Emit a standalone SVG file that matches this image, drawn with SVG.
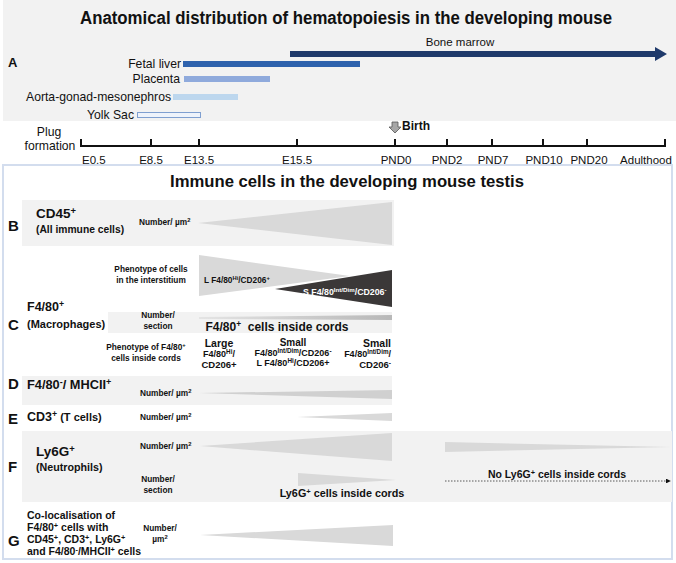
<svg xmlns="http://www.w3.org/2000/svg" width="676" height="563" viewBox="0 0 676 563">
<style>
text{font-family:"Liberation Sans",Arial,sans-serif;fill:#111}
.b{font-weight:bold}
.t11{font-size:11.5px}
.a12{font-size:12.2px}
.s8{font-size:8.3px;font-weight:bold}
.lbl{font-size:13.5px;font-weight:bold}
.tri{fill:#d9d9d9}
.strip{fill:#f2f2f2}
.tick{stroke:#111;stroke-width:2;fill:none}
.sup{font-size:70%}
</style>
<defs>
<marker id="ah" markerWidth="6" markerHeight="6" refX="5" refY="3" orient="auto"><path d="M0,0 L6,3 L0,6 Z" fill="#111"/></marker>
<linearGradient id="gC" x1="0" x2="1"><stop offset="0" stop-color="#e4e4e4"/><stop offset="1" stop-color="#b8b8b8"/></linearGradient>
</defs>
<rect width="676" height="563" fill="#fff"/>

<g id="panelA">
<rect x="3" y="0" width="673" height="121" fill="#f2f2f2"/>
<text class="b" x="346" y="24" font-size="18" text-anchor="middle" textLength="532" lengthAdjust="spacingAndGlyphs">Anatomical distribution of hematopoiesis in the developing mouse</text>
<text class="b" x="8" y="67" font-size="13">A</text>
</g>
<g id="bone-marrow">
<text class="t11" x="460" y="46" text-anchor="middle">Bone marrow</text>
<path d="M290,51 H655 V47 L667,54 L655,61 V57 H290 Z" fill="#1f3a6b"/>
</g>
<g id="fetal-liver">
<text class="a12" x="181" y="68" text-anchor="end">Fetal liver</text>
<rect x="183" y="61" width="177" height="6" fill="#2e62ad"/>
</g>
<g id="placenta">
<text class="a12" x="180" y="83" text-anchor="end">Placenta</text>
<rect x="184" y="76" width="86" height="6" fill="#8faadc"/>
</g>
<g id="agm">
<text class="a12" x="171" y="101" text-anchor="end">Aorta-gonad-mesonephros</text>
<rect x="173" y="94" width="65" height="6" fill="#bdd7ee"/>
</g>
<g id="yolk-sac">
<text class="a12" x="134" y="119" text-anchor="end">Yolk Sac</text>
<rect x="137.5" y="112.5" width="63" height="5" fill="#eef3fb" stroke="#7f9fd0" stroke-width="1"/>
</g>

<g id="timeline">
<text class="a12" x="49" y="136" text-anchor="middle">Plug</text>
<text class="a12" x="50" y="150" text-anchor="middle">formation</text>
<path class="tick" d="M81,139 V146 H665 V139 M151,139 V146 M199,139 V146 M297,139 V146 M395,139 V146 M447,139 V146 M492,139 V146 M543,139 V146 M587,139 V146"/>
<text class="t11" x="82" y="164">E0.5</text>
<text class="t11" x="151" y="164" text-anchor="middle">E8.5</text>
<text class="t11" x="199" y="164" text-anchor="middle">E13.5</text>
<text class="t11" x="297" y="164" text-anchor="middle">E15.5</text>
<text class="t11" x="396" y="164" text-anchor="middle">PND0</text>
<text class="t11" x="447" y="164" text-anchor="middle">PND2</text>
<text class="t11" x="493" y="164" text-anchor="middle">PND7</text>
<text class="t11" x="544" y="164" text-anchor="middle">PND10</text>
<text class="t11" x="589" y="164" text-anchor="middle">PND20</text>
<text class="t11" x="646" y="164" text-anchor="middle">Adulthood</text>
<path d="M392,122 H398 V127 H401 L395,133 L389,127 H392 Z" fill="#a6a6a6" stroke="#555" stroke-width="0.8"/>
<text class="b" x="402" y="130" font-size="12">Birth</text>
</g>

<g id="panelTestis">
<rect x="3" y="165" width="669" height="394" fill="#fff" stroke="#d3ddee" stroke-width="2"/>
<text class="b" x="347" y="187" font-size="16" text-anchor="middle" textLength="354" lengthAdjust="spacingAndGlyphs">Immune cells in the developing mouse testis</text>
</g>

<g id="rowB">
<rect class="strip" x="22" y="200" width="372" height="46"/>
<text class="b" x="8" y="231" font-size="15">B</text>
<text class="lbl" x="36" y="218">CD45<tspan class="sup" dy="-4">+</tspan></text>
<text class="b" x="36" y="233" font-size="10.3">(All immune cells)</text>
<text class="s8" x="139" y="225">Number/ µm<tspan class="sup" dy="-3">2</tspan></text>
<polygon class="tri" points="198,223 392,202 392,245"/>
</g>

<g id="rowC">
<text class="s8" x="151" y="272" text-anchor="middle">Phenotype of cells</text>
<text class="s8" x="151" y="283" text-anchor="middle">in the interstitium</text>
<polygon class="tri" points="199,255 199,296 350,276"/>
<polygon fill="#3b3838" points="275,289 392,270 392,307"/>
<text class="s8" x="204" y="283">L F4/80<tspan class="sup" dy="-3">Hi</tspan><tspan dy="3">/CD206</tspan><tspan class="sup" dy="-3">+</tspan></text>
<text class="b" font-size="8.8" x="303" y="295" style="fill:#fff">S F4/80<tspan class="sup" dy="-3" style="fill:#fff">Int/Dim</tspan><tspan dy="3" style="fill:#fff">/CD206</tspan><tspan class="sup" dy="-3" style="fill:#fff">-</tspan></text>
<text class="b" x="8" y="330" font-size="15">C</text>
<text class="b" font-size="12.5" x="27" y="311">F4/80<tspan class="sup" dy="-4">+</tspan></text>
<text class="b" x="27" y="328" font-size="11">(Macrophages)</text>
<rect class="strip" x="108" y="312" width="284" height="21"/>
<text class="s8" x="158" y="318" text-anchor="middle">Number/</text>
<text class="s8" x="158" y="329" text-anchor="middle">section</text>
<polygon fill="url(#gC)" points="199,317 392,315 392,320 199,319"/>
<text class="b" x="277" y="331" font-size="12" text-anchor="middle" xml:space="preserve">F4/80<tspan class="sup" dy="-4">+</tspan><tspan dy="4">  cells inside cords</tspan></text>
<text class="s8" x="146" y="350" text-anchor="middle">Phenotype of F4/80<tspan class="sup" dy="-3">+</tspan></text>
<text class="s8" x="146" y="361" text-anchor="middle">cells inside cords</text>
<text class="b" x="219" y="347" font-size="10.5" text-anchor="middle">Large</text>
<text class="b" x="219" y="357" font-size="9" text-anchor="middle">F4/80<tspan class="sup" dy="-3">Hi</tspan><tspan dy="3">/</tspan></text>
<text class="b" x="219" y="368" font-size="9.5" text-anchor="middle">CD206+</text>
<text class="b" x="293" y="346" font-size="10" text-anchor="middle">Small</text>
<text class="b" x="293" y="356" font-size="9" text-anchor="middle">F4/80<tspan class="sup" dy="-3">Int/Dim</tspan><tspan dy="3">/CD206</tspan><tspan class="sup" dy="-3">-</tspan></text>
<text class="b" x="293" y="366" font-size="9" text-anchor="middle">L F4/80<tspan class="sup" dy="-3">Hi</tspan><tspan dy="3">/CD206+</tspan></text>
<text class="b" x="391" y="347" font-size="10.5" text-anchor="end">Small</text>
<text class="b" x="391" y="357" font-size="9" text-anchor="end">F4/80<tspan class="sup" dy="-3">Int/Dim</tspan><tspan dy="3">/</tspan></text>
<text class="b" x="391" y="368" font-size="9.5" text-anchor="end">CD206<tspan class="sup" dy="-3">-</tspan></text>
</g>

<g id="rowD">
<rect class="strip" x="22" y="376" width="370" height="29"/>
<text class="b" x="8" y="389" font-size="15">D</text>
<text class="b" font-size="12.8" x="27" y="389">F4/80<tspan class="sup" dy="-4">-</tspan><tspan dy="4">/ MHCII</tspan><tspan class="sup" dy="-4">+</tspan></text>
<text class="s8" x="140" y="396">Number/ µm<tspan class="sup" dy="-3">2</tspan></text>
<polygon fill="#d0d0d0" points="199,393 392,390 392,399"/>
</g>

<g id="rowE">
<text class="b" x="8" y="424" font-size="15">E</text>
<text class="b" font-size="12.5" x="27" y="421">CD3<tspan class="sup" dy="-4">+</tspan><tspan dy="4" font-size="11"> (T cells)</tspan></text>
<text class="s8" x="140" y="420">Number/ µm<tspan class="sup" dy="-3">2</tspan></text>
<polygon class="tri" points="297,417 392,413 392,421"/>
</g>

<g id="rowF">
<rect class="strip" x="22" y="431" width="650" height="71"/>
<text class="b" x="8" y="472" font-size="15">F</text>
<text class="lbl" x="36" y="456">Ly6G<tspan class="sup" dy="-4">+</tspan></text>
<text class="b" x="36" y="471" font-size="10.7">(Neutrophils)</text>
<text class="s8" x="140" y="449">Number/ µm<tspan class="sup" dy="-3">2</tspan></text>
<polygon class="tri" points="200,446 392,433 392,461"/>
<polygon class="tri" points="445,442 445,452 671,447"/>
<text class="s8" x="158" y="482" text-anchor="middle">Number/</text>
<text class="s8" x="158" y="493" text-anchor="middle">section</text>
<polygon class="tri" points="298,473 298,486 396,480"/>
<text class="b" x="342" y="497" font-size="10.8" text-anchor="middle">Ly6G<tspan class="sup" dy="-3">+</tspan><tspan dy="3"> cells inside cords</tspan></text>
<text class="b" x="557" y="478" font-size="10.5" text-anchor="middle">No Ly6G<tspan class="sup" dy="-3">+</tspan><tspan dy="3"> cells inside cords</tspan></text>
</g>

<g id="connectors">
<line x1="445" y1="481" x2="670" y2="481" stroke="#333" stroke-width="0.8" stroke-dasharray="1.5,1.5" marker-end="url(#ah)"/>
</g>

<g id="rowG">
<text class="b" x="8" y="546" font-size="15">G</text>
<text class="b" x="27" y="519" font-size="10.5">Co-localisation of</text>
<text class="b" x="27" y="531" font-size="10.5">F4/80<tspan class="sup" dy="-3">+</tspan><tspan dy="3"> cells with</tspan></text>
<text class="b" x="27" y="543" font-size="10.5">CD45<tspan class="sup" dy="-3">+</tspan><tspan dy="3">, CD3</tspan><tspan class="sup" dy="-3">+</tspan><tspan dy="3">, Ly6G</tspan><tspan class="sup" dy="-3">+</tspan></text>
<text class="b" x="27" y="555" font-size="10.5">and F4/80<tspan class="sup" dy="-3">-</tspan><tspan dy="3">/MHCII</tspan><tspan class="sup" dy="-3">+</tspan><tspan dy="3"> cells</tspan></text>
<text class="s8" x="160" y="531" text-anchor="middle">Number/</text>
<text class="s8" x="160" y="542" text-anchor="middle">µm<tspan class="sup" dy="-3">2</tspan></text>
<polygon class="tri" points="200,535 393,525 393,546"/>
</g>
</svg>
